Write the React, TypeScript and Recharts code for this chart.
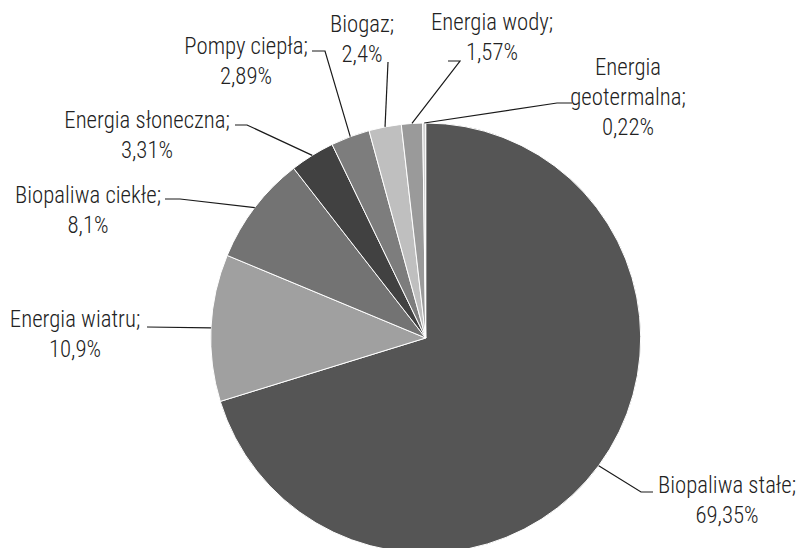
import { PieChart, Pie, Cell } from "recharts";

const categories = [
  "Biopaliwa stałe",
  "Energia wiatru",
  "Biopaliwa ciekłe",
  "Energia słoneczna",
  "Pompy ciepła",
  "Biogaz",
  "Energia wody",
  "Energia geotermalna",
];
const shares = [69.35, 10.9, 8.1, 3.31, 2.89, 2.4, 1.57, 0.22];
const colors = [
  "#555555",
  "#a0a0a0",
  "#737373",
  "#414141",
  "#7d7d7d",
  "#bfbfbf",
  "#9a9a9a",
  "#cfcfcf",
];

const data = categories.map((name, i) => ({ name, value: shares[i] }));

// where each label block sits, and the bend of its leader line
const labelLayout = [
  { tx: 727, ty: 493, bend: [641, 492], end: [653, 492], wrap: false },
  { tx: 75, ty: 327, bend: null, end: [147, 327], wrap: false },
  { tx: 88, ty: 203, bend: [180, 199], end: [165, 199], wrap: false },
  { tx: 147, ty: 128, bend: [247, 125], end: [235, 125], wrap: false },
  { tx: 246, ty: 54, bend: [325, 51], end: [312, 51], wrap: false },
  { tx: 362, ty: 32, bend: null, end: [388, 62], wrap: false },
  { tx: 492, ty: 30, bend: [460, 61], end: [448, 61], wrap: false },
  { tx: 628, ty: 75, bend: [557, 103], end: [572, 103], wrap: true },
];

const RAD = Math.PI / 180;
const LINE_H = 30;

const renderLabel = (props: any) => {
  const { cx, cy, midAngle, outerRadius, index } = props;
  const lay = labelLayout[index];
  const sx = cx + outerRadius * Math.cos(-midAngle * RAD);
  const sy = cy + outerRadius * Math.sin(-midAngle * RAD);
  const pts = [[sx, sy]];
  if (lay.bend) pts.push(lay.bend);
  pts.push(lay.end);
  const d = pts.map((p, i) => (i === 0 ? "M" : "L") + p[0] + "," + p[1]).join(" ");
  const name = categories[index];
  const pct = String(shares[index]).replace(".", ",") + "%";
  const lines = lay.wrap
    ? [name.split(" ")[0], name.split(" ").slice(1).join(" ") + ";", pct]
    : [name + ";", pct];
  return (
    <g>
      <path d={d} stroke="#1a1a1a" strokeWidth={1.2} fill="none" />
      <text
        transform={`translate(${lay.tx},0) scale(0.93,1)`}
        textAnchor="middle"
        fill="#222"
        fontSize={24.5}
        fontWeight={300}
        fontFamily="'Roboto Condensed', 'Liberation Sans Narrow', Roboto, sans-serif"
      >
        {lines.map((l, i) => (
          <tspan key={i} x={0} y={lay.ty + i * LINE_H}>
            {l}
          </tspan>
        ))}
      </text>
    </g>
  );
};

export default function App() {
  return (
    <div style={{ position: "absolute", left: 0, top: 0, background: "#fff" }}>
      <PieChart width={801} height={548} margin={{ top: 0, right: 0, bottom: 0, left: 0 }}>
        <Pie
          data={data}
          dataKey="value"
          nameKey="name"
          cx={425.7}
          cy={338}
          outerRadius={215}
          startAngle={90}
          endAngle={-270}
          stroke="#ffffff"
          strokeWidth={1}
          label={renderLabel}
          labelLine={false}
          isAnimationActive={false}
        >
          {data.map((d, i) => (
            <Cell key={d.name} fill={colors[i]} />
          ))}
        </Pie>
      </PieChart>
    </div>
  );
}
